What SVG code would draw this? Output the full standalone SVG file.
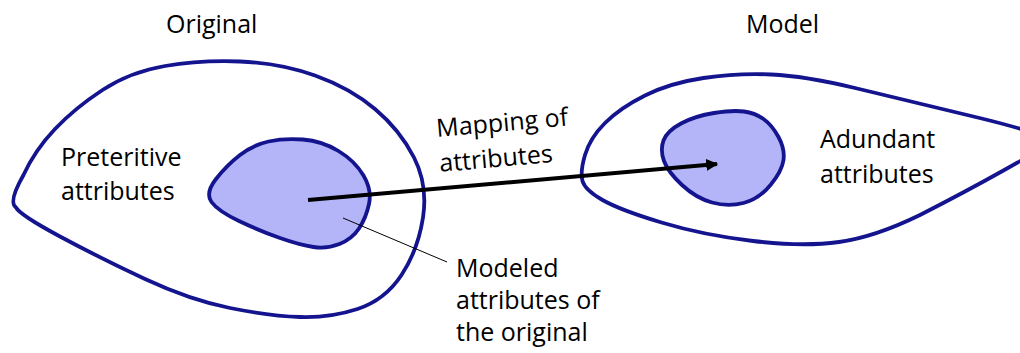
<svg xmlns="http://www.w3.org/2000/svg" width="1020" height="353" viewBox="0 0 1020 353">
  <style>
    .outer { fill: #ffffff; stroke: #14148f; stroke-width: 3.8; stroke-linejoin: round; }
    .inner { fill: #b3b5f8; stroke: #14148f; stroke-width: 3.8; stroke-linejoin: round; }
    .label { font-family: "Open Sans", "Liberation Sans", sans-serif; font-size: 25px; fill: #000000; }
  </style>
  <defs>
    <marker id="arrowhead" viewBox="0 0 10 10" refX="9" refY="5" markerWidth="3" markerHeight="3" orient="auto" markerUnits="strokeWidth">
      <path d="M0,0 L10,5 L0,10 Z" fill="#000000"/>
    </marker>
  </defs>
  <rect width="1020" height="353" fill="#ffffff"/>

  <text class="label" x="166" y="33">Original</text>
  <text class="label" x="746" y="33">Model</text>

  <g id="original">
    <path class="outer" d="M 16,207.5 Q 8,202 23.5,175 Q 35,150 55,129 Q 75,108 102.5,90 Q 130,72 165,66 Q 200,60 240,61.5 Q 280,63 315,75.5 Q 350,88 375,109 Q 400,130 414,157.5 Q 428,185 423,217.5 Q 418,250 401.5,275 Q 385,300 357.5,309 Q 330,318 300,317 Q 270,316 230,308 Q 190,300 145,279 Q 100,258 60,236.5 Q 20,215 16,207.5 Z"/>
    <text class="label" x="61" y="166">Preteritive</text>
    <text class="label" x="61" y="200">attributes</text>
  </g>

  <g id="modeled-original">
    <path class="inner" d="M 211.5,202 Q 205,193 216,179 Q 227,165 240,155 Q 253,145 268.5,141.5 Q 284,138 303,139.5 Q 322,141 338.5,151 Q 355,161 363.5,175.5 Q 372,190 369,204 Q 366,218 359,228.5 Q 352,239 339.5,244 Q 327,249 313.5,247 Q 300,245 280,238 Q 260,231 239,221 Q 218,211 211.5,202 Z"/>
  </g>

  <g id="model">
    <path class="outer" d="M 582.5,181 Q 580,172 585,155 Q 590,138 605,123 Q 620,108 645,95.5 Q 670,83 703.5,78 Q 737,73 771,74.5 Q 805,76 855,88 Q 905,100 977.5,117.5 Q 1050,135 1050,142.5 Q 1040,150 1002.5,171 Q 965,192 920,215 Q 875,237 839,242 Q 803,247 753,241 Q 703,235 661.5,222.5 Q 620,210 602.5,200 Q 585,190 582.5,181 Z"/>
    <text class="label" x="820" y="148">Adundant</text>
    <text class="label" x="820" y="183">attributes</text>
  </g>

  <g id="mapped-attributes">
    <path class="inner" d="M 744,111.5 Q 733,110 714,113 Q 695,116 681,123.5 Q 667,131 663.5,140.5 Q 660,150 664,161 Q 668,172 682,185 Q 696,198 712,202.5 Q 728,207 743.5,203 Q 759,199 770.5,185 Q 782,171 783.5,160 Q 785,149 778.5,137 Q 772,125 763.5,119 Q 755,113 744,111.5 Z"/>
  </g>

  <g id="connectors">
    <line x1="308" y1="200" x2="717" y2="164" stroke="#000000" stroke-width="4" marker-end="url(#arrowhead)"/>
    <line x1="343" y1="218" x2="447" y2="262" stroke="#000000" stroke-width="1"/>
  </g>

  <g id="labels">
    <g transform="rotate(-5 437 137)">
      <text class="label" x="437" y="137">Mapping of</text>
      <text class="label" x="437" y="172">attributes</text>
    </g>
    <text class="label" x="456" y="277">Modeled</text>
    <text class="label" x="456" y="309">attributes of</text>
    <text class="label" x="456" y="341">the original</text>
  </g>
</svg>
